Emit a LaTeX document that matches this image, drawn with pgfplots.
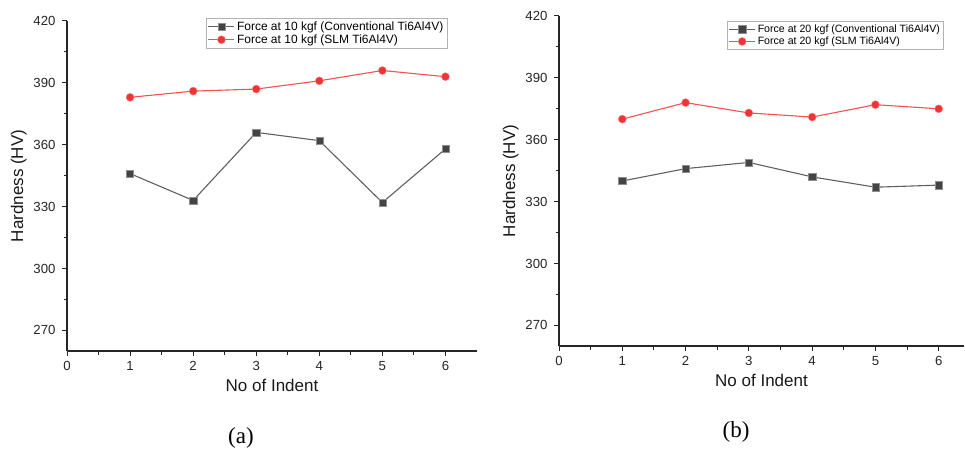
\documentclass[border=0pt]{standalone}
\usepackage{pgfplots}
\pgfplotsset{compat=1.18}
\usepackage{fontspec}
\setmainfont{Liberation Sans}
\newfontfamily\capfont{Liberation Serif}
\definecolor{cgray}{RGB}{68,68,68}
\definecolor{cred}{RGB}{240,52,52}
\pgfplotsset{
  hv/.style={
    scale only axis, anchor=south west,
    axis lines=left, axis line style={-, line width=1.2pt, black!85},
    ymin=260, ymax=420, ytick={270,300,...,420}, minor y tick num=1,
    xmin=0, xtick={0,...,6}, minor x tick num=1,
    tick align=outside, major tick length=5pt, minor tick length=3.5pt,
    every tick/.style={line width=1pt, black!85},
    /pgf/number format/assume math mode=true,
    tick label style={font=\fontsize{13.2}{15}\selectfont, text=black!85},
    yticklabel style={xshift=-3pt},
    xticklabel style={yshift=-2pt},
    label style={font=\fontsize{17}{20}\selectfont, text=black!90},
    xlabel={No of Indent}, ylabel={Hardness (HV)},
    xlabel style={yshift=-1pt},
    legend cell align=left,
    legend style={draw=gray!60, line width=0.5pt, inner sep=1.5pt, row sep=-1pt,
      /tikz/every even column/.append style={column sep=2pt}},
    legend image code/.code={\draw[mark repeat=2,mark phase=2] plot coordinates {(0pt,0pt) (13pt,0pt) (26pt,0pt)};},
    clip=false,
  },
  conv/.style={color=cgray!85, line width=1.1pt, mark=square*, mark size=3.6pt,
    mark options={fill=cgray, draw=cgray!60, line width=0.4pt}},
  slm/.style={color=cred!85, line width=1.1pt, mark=*, mark size=4pt,
    mark options={fill=cred, draw=cred!60, line width=0.4pt}},
}
\begin{document}
\begin{tikzpicture}
\useasboundingbox (0pt,0pt) rectangle (965pt,448pt);
\begin{axis}[hv, at={(67pt,97pt)}, width=410pt, height=330pt, xmax=6.5,
  legend style={at={(0.927,1.01)}, anchor=north east, font=\fontsize{12}{13}\selectfont}]
\addplot[conv] coordinates {(1,346) (2,333) (3,366) (4,362) (5,332) (6,358)};
\addlegendentry{Force at 10 kgf (Conventional Ti6Al4V)}
\addplot[slm] coordinates {(1,383) (2,386) (3,387) (4,391) (5,396) (6,393)};
\addlegendentry{Force at 10 kgf (SLM Ti6Al4V)}
\end{axis}
\begin{axis}[hv, at={(559pt,102pt)}, width=405pt, height=330pt, xmax=6.4,
  legend style={at={(0.95,0.985)}, anchor=north east, font=\fontsize{10.6}{11.5}\selectfont}]
\addplot[conv] coordinates {(1,340) (2,346) (3,349) (4,342) (5,337) (6,338)};
\addlegendentry{Force at 20 kgf (Conventional Ti6Al4V)}
\addplot[slm] coordinates {(1,370) (2,378) (3,373) (4,371) (5,377) (6,375)};
\addlegendentry{Force at 20 kgf (SLM Ti6Al4V)}
\end{axis}
\node[font=\capfont\fontsize{23}{25}\selectfont] at (241pt,10pt) {(a)};
\node[font=\capfont\fontsize{23}{25}\selectfont] at (736pt,16pt) {(b)};
\end{tikzpicture}
\end{document}
